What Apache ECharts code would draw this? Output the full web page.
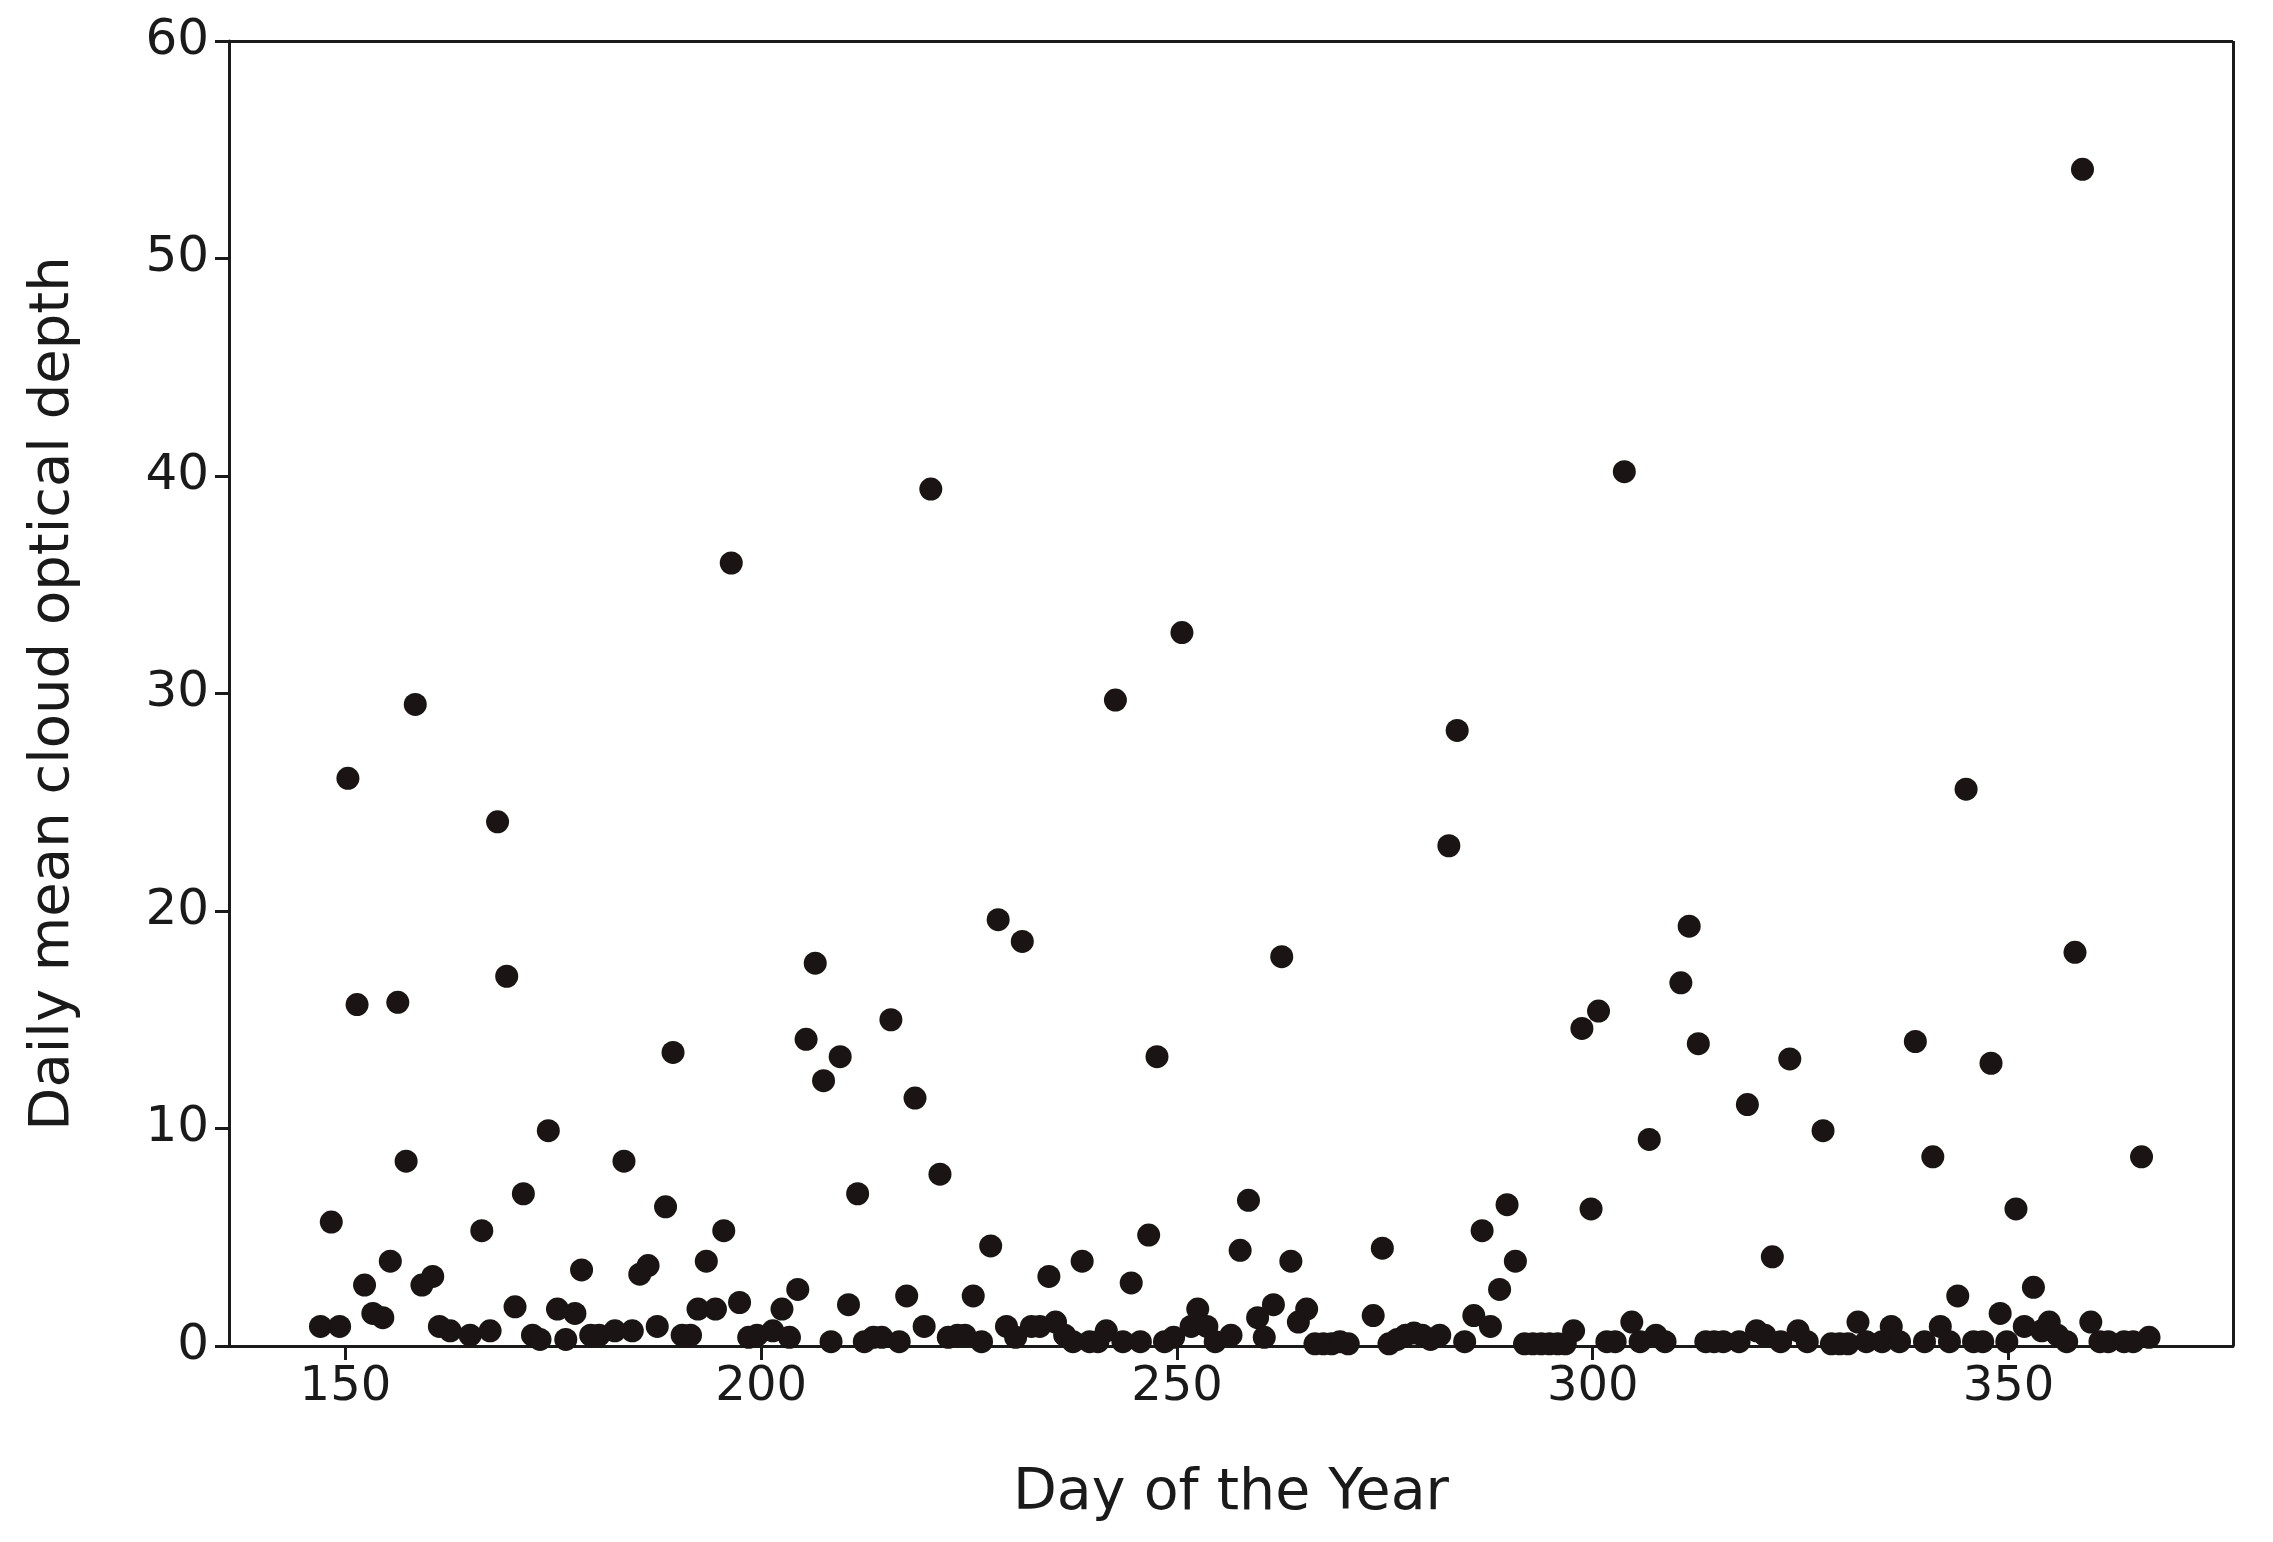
<!DOCTYPE html>
<html><head><meta charset="utf-8">
<script src="https://cdn.jsdelivr.net/npm/echarts@6/dist/echarts.min.js"></script>
<style>html,body{margin:0;padding:0;background:#fff}#c{width:2273px;height:1542px}</style>
</head><body><div id="c"></div>
<script>
const days = [147.0,149.3,148.3,150.3,151.4,152.3,153.3,154.5,155.4,156.3,157.3,158.4,159.2,160.5,161.3,162.6,165.0,166.4,167.4,168.3,169.4,170.4,171.4,172.5,173.4,174.4,175.5,176.5,177.6,178.4,179.5,180.5,182.4,183.5,184.5,185.4,186.4,187.5,188.5,189.4,190.5,191.5,192.4,193.4,194.5,195.5,196.4,197.4,198.5,199.5,201.4,202.5,203.4,204.4,205.4,206.5,207.5,208.4,209.5,210.5,211.6,212.4,213.5,214.5,215.6,216.6,217.5,218.5,219.6,220.4,221.5,222.5,223.6,224.5,225.5,226.5,227.6,228.5,229.5,230.6,231.4,232.5,233.5,234.6,235.4,236.5,237.5,238.6,239.5,240.5,241.5,242.6,243.5,244.5,245.6,246.6,247.6,248.5,249.6,250.6,251.7,252.5,253.6,254.6,256.5,257.6,258.6,259.7,260.5,261.6,262.6,263.7,264.6,265.6,266.6,267.6,268.6,269.6,270.6,273.6,274.7,275.5,276.5,277.5,278.5,279.5,280.5,281.6,282.7,283.7,284.6,285.7,286.7,287.7,288.8,289.7,290.7,291.8,292.8,293.8,294.8,295.8,296.7,297.7,298.7,299.8,300.7,301.7,302.7,303.8,304.7,305.7,306.8,307.6,308.7,310.6,311.6,312.7,313.6,314.6,315.7,317.6,318.6,319.7,320.7,321.6,322.6,323.7,324.7,325.8,327.7,328.7,329.7,330.7,331.9,332.9,334.8,335.9,336.9,338.8,339.9,340.9,341.8,342.9,343.9,344.9,345.8,346.9,347.9,349.0,349.8,350.9,351.9,353.0,354.0,354.9,355.9,357.0,358.0,358.9,359.9,361.0,362.0,363.9,365.0,366.0,366.9];
const depth = [0.9,0.9,5.7,26.1,15.7,2.8,1.5,1.3,3.9,15.8,8.5,29.5,2.8,3.2,0.9,0.7,0.5,5.3,0.7,24.1,17,1.8,7,0.5,0.3,9.9,1.7,0.3,1.5,3.5,0.5,0.5,0.7,8.5,0.7,3.3,3.7,0.9,6.4,13.5,0.5,0.5,1.7,3.9,1.7,5.3,36,2,0.4,0.5,0.7,1.7,0.4,2.6,14.1,17.6,12.2,0.2,13.3,1.9,7,0.2,0.4,0.4,15,0.2,2.3,11.4,0.9,39.4,7.9,0.4,0.5,0.5,2.3,0.2,4.6,19.6,0.9,0.4,18.6,0.9,0.9,3.2,1.1,0.5,0.2,3.9,0.2,0.2,0.7,29.7,0.2,2.9,0.2,5.1,13.3,0.2,0.4,32.8,0.9,1.7,0.9,0.2,0.5,4.4,6.7,1.3,0.4,1.9,17.9,3.9,1.1,1.7,0.1,0.1,0.1,0.2,0.1,1.4,4.5,0.1,0.3,0.5,0.6,0.5,0.3,0.5,23,28.3,0.2,1.4,5.3,0.9,2.6,6.5,3.9,0.1,0.1,0.1,0.1,0.1,0.1,0.7,14.6,6.3,15.4,0.2,0.2,40.2,1.1,0.2,9.5,0.5,0.2,16.7,19.3,13.9,0.2,0.2,0.2,0.2,11.1,0.7,0.5,4.1,0.2,13.2,0.7,0.2,9.9,0.1,0.1,0.1,1.1,0.2,0.2,0.9,0.2,14,0.2,8.7,0.9,0.2,2.3,25.6,0.2,0.2,13,1.5,0.2,6.3,0.9,2.7,0.7,1.1,0.5,0.2,18.1,54.1,1.1,0.2,0.2,0.2,0.2,8.7,0.4];
const xTicks = [150,200,250,300,350];
const yTicks = [0,10,20,30,40,50,60];
const n = Math.min(days.length, depth.length);
const pts = days.slice(0,n).map((d,i)=>[d,depth[i]]);
const F = 'DejaVu Sans';
const ax = {lineStyle:{color:'#1a1a1a',width:3}};
echarts.init(document.getElementById('c')).setOption({
  animation:false,
  grid:{left:229,right:40,top:41,bottom:196},
  xAxis:{type:'value',min:136,max:377,interval:50,name:'Day of the Year',nameLocation:'middle',nameGap:120,
    nameTextStyle:{fontFamily:F,fontSize:57,color:'#1a1a1a'},
    axisLine:{show:true,onZero:false,...ax},axisTick:{show:true,length:14,...ax,customValues:xTicks},
    axisLabel:{fontFamily:F,fontSize:48,color:'#1a1a1a',margin:18,customValues:xTicks},splitLine:{show:false}},
  yAxis:{type:'value',min:0,max:60,interval:10,name:'Daily mean cloud optical depth',nameLocation:'middle',nameGap:148,
    nameTextStyle:{fontFamily:F,fontSize:56,color:'#1a1a1a'},
    axisLine:{show:true,...ax},axisTick:{show:true,length:14,...ax},
    axisLabel:{fontFamily:F,fontSize:50,color:'#1a1a1a',margin:20,customValues:yTicks},splitLine:{show:false}},
  series:[{type:'scatter',data:pts,symbolSize:23,itemStyle:{color:'#1a1414',opacity:1}},
    {type:'line',data:[],markLine:{silent:true,symbol:'none',label:{show:false},lineStyle:{color:'#1a1a1a',width:3,type:'solid'},
      data:[[{coord:[136,60]},{coord:[377,60]}],[{coord:[377,0]},{coord:[377,60]}]]}}]
});
</script></body></html>
